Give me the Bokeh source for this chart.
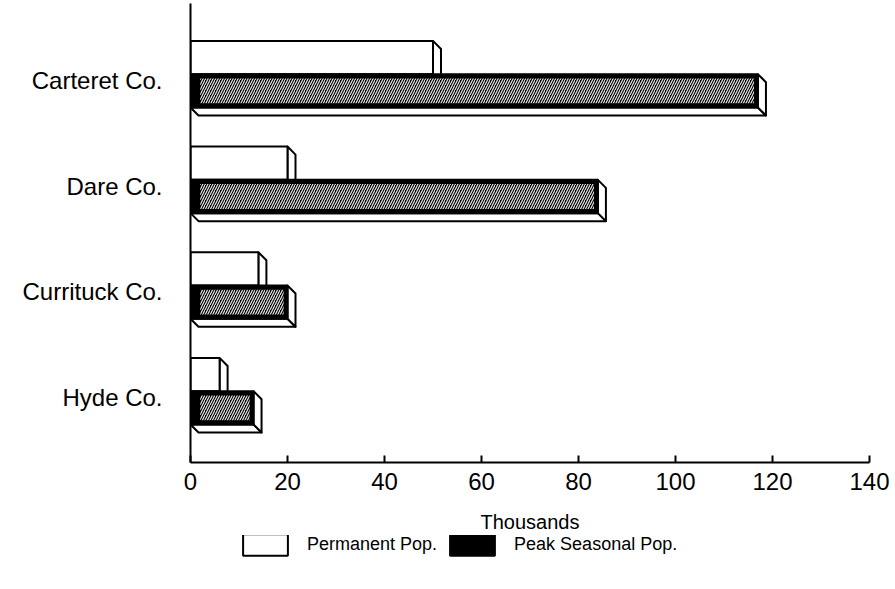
from bokeh.plotting import figure
from bokeh.layouts import column
from bokeh.models import Range1d, FixedTicker, Legend, LegendItem
from bokeh.embed import file_html
from bokeh.resources import INLINE

# ---- data (thousands of people) ----
counties = ["Hyde Co.", "Currituck Co.", "Dare Co.", "Carteret Co."]
permanent = [6, 14, 20, 50]
peak_seasonal = [13, 20, 84, 117]
x_ticks = [0, 20, 40, 60, 80, 100, 120, 140]
series_names = ["Permanent Pop.", "Peak Seasonal Pop."]
x_label = "Thousands"

pos = list(range(len(counties)))

# ---- styling constants ----
BAR_H = 0.315     # bar thickness (category units)
SPLIT = 0.06      # boundary between the two bars, relative to category centre
DX = 1.65         # 3-D depth, x (data units)
DY = 0.076        # 3-D depth, y (category units)
FONT = "Liberation Sans"

p = figure(width=893, height=535,
           x_range=Range1d(0, 140), y_range=Range1d(-0.615, 3.729),
           output_backend="svg", toolbar_location=None,
           min_border_left=190, min_border_right=24,
           min_border_top=3, min_border_bottom=73)


def faces(vals, top_off, bot_off):
    sx, sy, bx, by = [], [], [], []
    for y, v in zip(pos, vals):
        t, b = y + top_off, y + bot_off
        sx.append([v, v + DX, v + DX, v])
        sy.append([t, t - DY, b - DY, b])
        bx.append([0, v, v + DX, DX])
        by.append([b, b, b - DY, b - DY])
    return sx, sy, bx, by


face_style = dict(fill_color="white", line_color="black", line_width=2, line_join="round")
perm_style = dict(fill_color="white", line_color="black", line_width=2)
peak_style = dict(fill_color="black", line_color="black", line_width=2)
hatch_style = dict(fill_color=None, line_color=None, hatch_pattern="/", hatch_color="white",
                   hatch_scale=5, hatch_weight=1.2, hatch_alpha=0.9)

# permanent population (upper, white)
sx, sy, bx, by = faces(permanent, SPLIT + BAR_H, SPLIT)
p.patches(bx, by, **face_style)
p.patches(sx, sy, **face_style)
p.hbar(y=[y + SPLIT + BAR_H / 2 for y in pos], left=0, right=permanent,
       height=BAR_H, **perm_style)

# peak seasonal population (lower, dark hatched)
sx, sy, bx, by = faces(peak_seasonal, SPLIT, SPLIT - BAR_H)
p.patches(bx, by, **face_style)
p.patches(sx, sy, **face_style)
p.hbar(y=[y + SPLIT - BAR_H / 2 for y in pos], left=0, right=peak_seasonal,
       height=BAR_H, **peak_style)
p.hbar(y=[y + SPLIT - BAR_H / 2 for y in pos], left=2.0,
       right=[v - 0.8 for v in peak_seasonal], height=BAR_H - 0.08, **hatch_style)

# ---- axes ----
p.xgrid.visible = False
p.ygrid.visible = False
p.outline_line_color = None

p.xaxis.ticker = FixedTicker(ticks=x_ticks)
p.xaxis.major_tick_in = 7
p.xaxis.major_tick_out = 0
p.xaxis.minor_tick_line_color = None
p.xaxis.axis_line_width = 2
p.xaxis.major_tick_line_width = 2
p.xaxis.major_label_standoff = 10
p.xaxis.major_label_text_font = FONT
p.xaxis.major_label_text_font_size = "24px"
p.xaxis.major_label_text_color = "black"
p.xaxis.axis_label = x_label
p.xaxis.axis_label_text_font = FONT
p.xaxis.axis_label_text_font_size = "20px"
p.xaxis.axis_label_text_font_style = "normal"
p.xaxis.axis_label_text_color = "black"
p.xaxis.axis_label_text_line_height = 0.7
p.xaxis.axis_label_standoff = 18

p.yaxis.ticker = FixedTicker(ticks=pos)
p.yaxis.major_label_overrides = {i: n for i, n in zip(pos, counties)}
p.yaxis.major_tick_in = 0
p.yaxis.major_tick_out = 0
p.yaxis.minor_tick_line_color = None
p.yaxis.axis_line_width = 2
p.yaxis.major_label_standoff = 28
p.yaxis.major_label_text_font = FONT
p.yaxis.major_label_text_font_size = "24px"
p.yaxis.major_label_text_color = "black"

# ---- legend strip below the chart ----
# hidden proxy renderers carry the series styles for the legend swatches
lg = figure(width=893, height=52, x_range=Range1d(500, 501), y_range=Range1d(20, 21),
            output_backend="svg", toolbar_location=None,
            x_axis_type=None, y_axis_type=None,
            min_border_left=0, min_border_right=0, min_border_top=0, min_border_bottom=0)
lg.grid.visible = False
lg.outline_line_color = None
r_perm = lg.hbar(y=pos, left=0, right=permanent, height=BAR_H, visible=False, **perm_style)
r_peak = lg.hbar(y=pos, left=0, right=peak_seasonal, height=BAR_H, visible=False, **peak_style)

legend = Legend(items=[LegendItem(label=series_names[0], renderers=[r_perm], index=0),
                       LegendItem(label=series_names[1], renderers=[r_peak], index=0)],
                orientation="horizontal", location=(47, 29),
                glyph_width=56, glyph_height=27, label_standoff=14, spacing=7,
                padding=0, margin=0, border_line_color=None, background_fill_alpha=0,
                inactive_fill_alpha=0,
                label_text_font=FONT, label_text_font_size="18px", label_height=22,
                label_text_color="black")
lg.add_layout(legend, "center")

layout = column(p, lg, spacing=0)
open("out.html", "w").write(file_html(layout, INLINE))
